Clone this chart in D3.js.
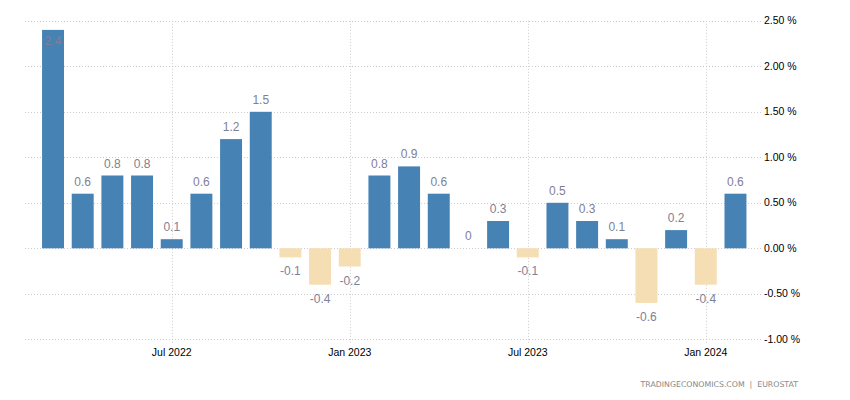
<!DOCTYPE html>
<html lang="en">
<head>
<meta charset="utf-8">
<title>Euro area inflation rate MoM</title>
<script src="https://cdn.jsdelivr.net/npm/d3@7"></script>
<style>
 body { margin: 0; background: #ffffff; }
 svg { display: block; }
</style>
</head>
<body>
<div id="chart"></div>
<script>
 // monthly values, Mar 2022 .. Feb 2024
 const months = ["2022-03","2022-04","2022-05","2022-06","2022-07","2022-08","2022-09","2022-10",
                 "2022-11","2022-12","2023-01","2023-02","2023-03","2023-04","2023-05","2023-06",
                 "2023-07","2023-08","2023-09","2023-10","2023-11","2023-12","2024-01","2024-02"];
 const values = [2.4, 0.6, 0.8, 0.8, 0.1, 0.6, 1.2, 1.5,
                 -0.1, -0.4, -0.2, 0.8, 0.9, 0.6, 0, 0.3,
                 -0.1, 0.5, 0.3, 0.1, -0.6, 0.2, -0.4, 0.6];
 const xTicks = ["2022-07", "2023-01", "2023-07", "2024-01"];
 const xTickLabels = ["Jul 2022", "Jan 2023", "Jul 2023", "Jan 2024"];
 const yTicks = [-1, -0.5, 0, 0.5, 1, 1.5, 2, 2.5];
 const source = "TRADINGECONOMICS.COM  |  EUROSTAT";

 const W = 850, H = 400;
 const gridLeft = 25, gridRight = 762;

 const data = months.map((m, i) => ({month: m, value: values[i]}));

 const x = d3.scaleBand()
     .domain(months)
     .range([38.2, 750.3])
     .paddingInner(0.26)
     .paddingOuter(0.13);

 const y = d3.scaleLinear()
     .domain([-1, 2.5])
     .range([339.3, 20.8]);

 const svg = d3.select("#chart").append("svg")
     .attr("width", W)
     .attr("height", H);

 //horizontal grid
 svg.append("g").selectAll("line")
     .data(yTicks).enter().append("line")
     .attr("x1", gridLeft).attr("x2", gridRight)
     .attr("y1", d => Math.round(y(d)) + 0.5)
     .attr("y2", d => Math.round(y(d)) + 0.5)
     .attr("stroke", "#cccccc")
     .attr("stroke-dasharray", "1,2");

 //vertical grid
 const xc = m => x(m) + x.bandwidth() / 2;
 svg.append("g").selectAll("line")
     .data(xTicks).enter().append("line")
     .attr("x1", d => Math.round(xc(d)) + 0.5)
     .attr("x2", d => Math.round(xc(d)) + 0.5)
     .attr("y1", y(2.5))
     .attr("y2", y(-1) + 5)
     .attr("stroke", "#cccccc")
     .attr("stroke-dasharray", "1,2");

 //bars
 svg.append("g").selectAll("rect")
     .data(data).enter().append("rect")
     .attr("x", d => x(d.month))
     .attr("width", x.bandwidth())
     .attr("y", d => y(Math.max(0, d.value)))
     .attr("height", d => Math.abs(y(d.value) - y(0)))
     .attr("fill", d => d.value < 0 ? "#f5deb3" : "#4682b4");

 //value labels
 svg.append("g").selectAll("text")
     .data(data).enter().append("text")
     .attr("x", d => xc(d.month))
     .attr("y", d => d.value < 0 ? y(d.value) + 18 : Math.max(y(d.value) - 8, 45))
     .attr("text-anchor", "middle")
     .attr("font-family", "Liberation Sans, Arial, sans-serif")
     .attr("font-size", 12)
     .attr("fill", "#808096")
     .text(d => d.value);

 //y axis labels on the right
 svg.append("g").selectAll("text")
     .data(yTicks).enter().append("text")
     .attr("x", 764)
     .attr("y", d => y(d))
     .attr("dy", "0.35em")
     .attr("font-family", "Liberation Sans, Arial, sans-serif")
     .attr("font-size", 10.5)
     .attr("fill", "#000000")
     .text(d => d.toFixed(2) + " %");

 //x axis labels
 svg.append("g").selectAll("text")
     .data(xTicks).enter().append("text")
     .attr("x", d => xc(d))
     .attr("y", 356)
     .attr("text-anchor", "middle")
     .attr("font-family", "Liberation Sans, Arial, sans-serif")
     .attr("font-size", 10.5)
     .attr("fill", "#000000")
     .text((d, i) => xTickLabels[i]);

 //source
 svg.append("text")
     .attr("x", 798)
     .attr("y", 387)
     .attr("text-anchor", "end")
     .attr("font-family", "DejaVu Sans, sans-serif")
     .attr("font-size", 7.8)
     .attr("fill", "#888888")
     .style("white-space", "pre")
     .text(source);
</script>
</body>
</html>
